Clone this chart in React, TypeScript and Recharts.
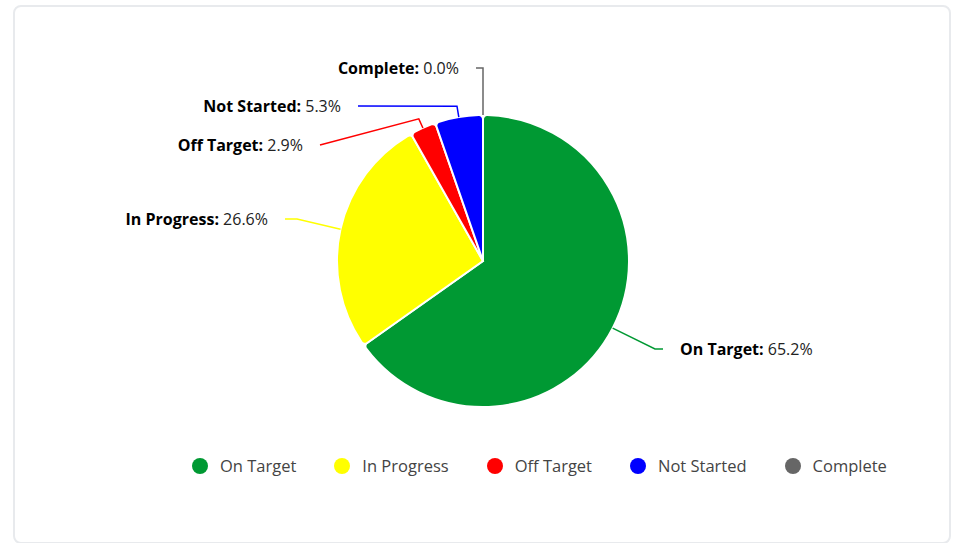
import { PieChart, Pie, Cell, Legend } from "recharts";

const categories = ["On Target", "In Progress", "Off Target", "Not Started", "Complete"];
const shares = [65.2, 26.6, 2.9, 5.3, 0.0];
const colors = ["#009933", "#ffff00", "#ff0000", "#0000ff", "#666666"];

const data = categories.map((name, i) => ({ name, value: shares[i] }));

// where each data label sits, relative to the pie centre
const labelLayout = [
    { dy: 88, endDx: 180, crook: 172 },
    { dy: -42, endDx: -198, crook: -186 },
    { dy: -116, endDx: -163, radial: 10 },
    { dy: -155, endDx: -125, radial: 11 },
    { dy: -193, endDx: -7, crook: 0 },
];

const RAD = Math.PI / 180;

function renderLabel(props: any) {
    const { cx, cy, midAngle, outerRadius, index, value, name } = props;
    const l: any = labelLayout[index];
    const cos = Math.cos(-midAngle * RAD);
    const sin = Math.sin(-midAngle * RAD);
    const ex = cx + outerRadius * cos;
    const ey = cy + outerRadius * sin;
    const ly = cy + l.dy;
    const lx = cx + l.endDx;
    let bx: number, by: number;
    if (l.crook !== undefined) {
        bx = cx + l.crook;
        by = ly;
    } else {
        bx = cx + (outerRadius + l.radial) * cos;
        by = cy + (outerRadius + l.radial) * sin;
    }
    const right = l.endDx > 0;
    return (
        <g key={`lbl-${index}`}>
            <path
                d={`M${lx},${ly}L${bx},${by}L${ex},${ey}`}
                stroke={colors[index]}
                strokeWidth={1.5}
                fill="none"
            />
            <text
                x={right ? lx + 17 : lx - 17}
                y={ly}
                textAnchor={right ? "start" : "end"}
                dominantBaseline="central"
                fontSize={16}
                fill="#222"
            >
                <tspan fontWeight="bold" fill="#000">{name}:</tspan> {Number(value).toFixed(1)}%
            </text>
        </g>
    );
}

function renderLegend() {
    return (
        <div style={{ display: "flex", alignItems: "center", fontSize: 16.5, color: "#444" }}>
            {categories.map((c, i) => (
                <div key={c} style={{ display: "flex", alignItems: "center", marginRight: 38 }}>
                    <span
                        style={{
                            width: 16,
                            height: 16,
                            borderRadius: "50%",
                            background: colors[i],
                            display: "inline-block",
                            marginRight: 12,
                        }}
                    />
                    <span>{c}</span>
                </div>
            ))}
        </div>
    );
}

export default function App() {
    return (
        <div
            style={{
                position: "fixed",
                left: 0,
                top: 0,
                width: 957,
                height: 543,
                background: "#fff",
                fontFamily: "'Open Sans', sans-serif",
                overflow: "hidden",
            }}
        >
            <div
                style={{
                    position: "absolute",
                    left: 13,
                    top: 5,
                    width: 934,
                    height: 535,
                    border: "2px solid #e8eaed",
                    borderRadius: 8,
                }}
            />
            <div style={{ position: "absolute", left: 0, top: 0 }}>
                <PieChart width={957} height={543} margin={{ top: 0, right: 0, bottom: 0, left: 0 }}>
                    <Pie
                        data={data}
                        dataKey="value"
                        nameKey="name"
                        cx={483}
                        cy={261}
                        outerRadius={146}
                        startAngle={90}
                        endAngle={-270}
                        cornerRadius={4}
                        stroke="#fff"
                        strokeWidth={2}
                        label={renderLabel}
                        labelLine={false}
                        isAnimationActive={false}
                    >
                        {data.map((d, i) => (
                            <Cell key={d.name} fill={colors[i]} />
                        ))}
                    </Pie>
                    <Legend
                        content={renderLegend}
                        wrapperStyle={{ position: "absolute", left: 192, top: 454, width: "auto" }}
                    />
                </PieChart>
            </div>
        </div>
    );
}
